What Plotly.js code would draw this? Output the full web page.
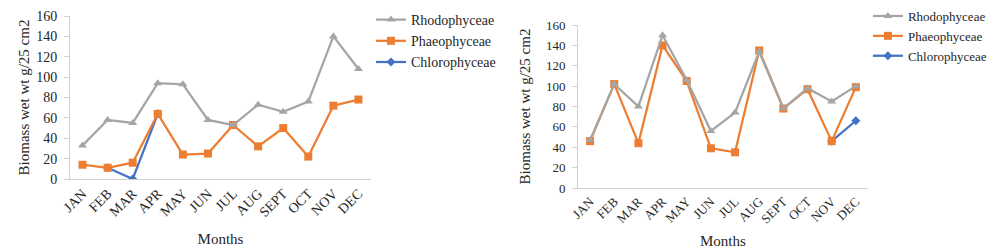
<!DOCTYPE html>
<html>
<head>
<meta charset="utf-8">
<script src="https://cdn.plot.ly/plotly-3.0.1.min.js"></script>
<style>
  html, body { margin: 0; padding: 0; background: #fff; }
  #wrap { position: relative; width: 1004px; height: 252px; overflow: hidden; }
  #c1 { position: absolute; left: 0; top: 0; width: 500px; height: 252px; }
  #c2 { position: absolute; left: 500px; top: 0; width: 504px; height: 252px; }
</style>
</head>
<body>
<div id="wrap"><div id="c1"></div><div id="c2"></div></div>
<script>
const months = ["JAN","FEB","MAR","APR","MAY","JUN","JUL","AUG","SEPT","OCT","NOV","DEC"];

// Chart 1
const rhodo1  = [33, 58, 55, 94, 93, 58, 53, 73, 66, 76, 140, 108];
const phaeo1  = [14, 11, 16, 64, 24, 25, 53, 32, 50, 22, 72, 78];
const chloro1 = [null, 11, 0, 64, null, null, null, null, null, null, null, null];

// Chart 2
const rhodo2  = [47, 102, 80, 150, 106, 56, 74, 134, 78, 98, 85, 100];
const phaeo2  = [46, 102, 44, 140, 105, 39, 35, 135, 78, 97, 46, 99];
const chloro2 = [null, null, null, null, null, null, null, null, null, null, 46, 66];

const seriesNames = ["Rhodophyceae", "Phaeophyceae", "Chlorophyceae"];
const yTitle = "Biomass wet wt g/25 cm2";
const xTitle = "Months";
const yTicks = [0, 20, 40, 60, 80, 100, 120, 140, 160];

const FONT = "'Liberation Serif', 'Times New Roman', serif";
const GREY = "#A5A5A5", ORANGE = "#ED7D31", BLUE = "#4472C4";
const TXT = "#262626", AXC = "#D0D0D0";

function traces(r, p, c) {
  return [
    {x: months, y: c, name: seriesNames[2], type: "scatter", mode: "lines+markers",
     line: {color: BLUE, width: 2.25}, marker: {symbol: "diamond", size: 7, color: BLUE}},
    {x: months, y: p, name: seriesNames[1], type: "scatter", mode: "lines+markers",
     line: {color: ORANGE, width: 2.25}, marker: {symbol: "square", size: 8, color: ORANGE}},
    {x: months, y: r, name: seriesNames[0], type: "scatter", mode: "lines+markers",
     line: {color: GREY, width: 2.25}, marker: {symbol: "triangle-up", size: 8, color: GREY}}
  ];
}

function layout(o) {
  return {
    width: o.w, height: 252,
    margin: {l: o.l, r: o.r, t: o.t, b: o.b, pad: 0},
    paper_bgcolor: "#fff", plot_bgcolor: "#fff",
    font: {family: FONT, color: TXT, size: o.fs},
    showlegend: true,
    legend: {
      traceorder: "reversed", xref: "container", yref: "container",
      x: o.lx, y: o.ly, xanchor: "left", yanchor: "top",
      font: {family: FONT, size: o.fs, color: TXT}, bgcolor: "rgba(0,0,0,0)",
      itemwidth: 30, tracegroupgap: 0
    },
    xaxis: {
      type: "category", range: [-0.5, 11.5], tickangle: -45,
      showline: true, linecolor: AXC, linewidth: 1, ticks: "", showgrid: false, zeroline: false,
      tickfont: {family: FONT, size: o.fs, color: TXT},
      title: {text: xTitle, font: {family: FONT, size: 15, color: TXT}, standoff: o.xs}
    },
    yaxis: {
      range: [0, 160], tickvals: yTicks, ticks: "outside", ticklen: 5, tickcolor: AXC,
      ticklabelstandoff: o.ts,
      showline: true, linecolor: AXC, linewidth: 1, showgrid: false, zeroline: false,
      tickfont: {family: FONT, size: o.fs, color: TXT},
      title: {text: yTitle, font: {family: FONT, size: 15, color: TXT}, standoff: o.ys}
    }
  };
}

Plotly.newPlot("c1", traces(rhodo1, phaeo1, chloro1),
  layout({w: 500, l: 70, r: 108, t: 16, b: 73, fs: 14, lx: 0.742, ly: 1 - 4/252, xs: 14, ys: 2, ts: 4}),
  {displayModeBar: false, staticPlot: true});
Plotly.newPlot("c2", traces(rhodo2, phaeo2, chloro2),
  layout({w: 504, l: 77.5, r: 64, t: 25, b: 64, fs: 13, lx: 0.73, ly: 1 - 1/252, xs: 10, ys: 11, ts: 4}),
  {displayModeBar: false, staticPlot: true});
</script>
</body>
</html>
